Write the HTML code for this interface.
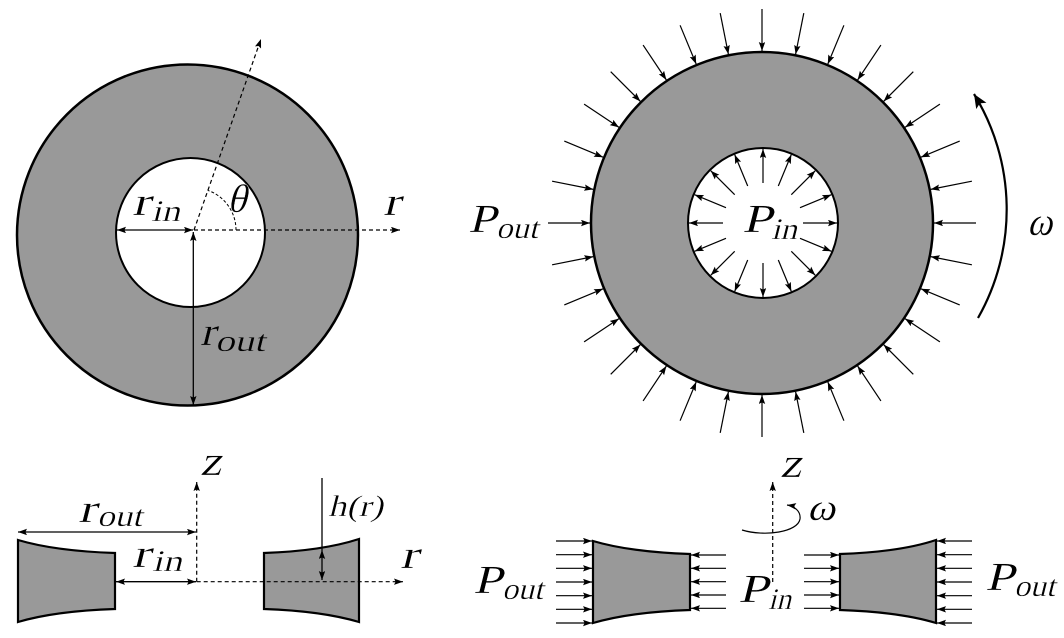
<!DOCTYPE html>
<html>
<head>
<meta charset="utf-8">
<style>
html,body{margin:0;padding:0;background:#fff;}
svg{display:block;}
svg text{font-family:"Liberation Serif","DejaVu Serif",serif;font-style:normal;fill:#000;}
.e text{stroke:#fff;stroke-width:0.35px;}
.g text{stroke:#999;stroke-width:0.35px;}
</style>
</head>
<body>
<svg width="1064" height="638" viewBox="0 0 1064 638" xmlns="http://www.w3.org/2000/svg">
<defs>
<marker id="a" markerUnits="userSpaceOnUse" markerWidth="10" markerHeight="8" refX="9" refY="3.2" orient="auto-start-reverse">
<path d="M0,0 L9,3.2 L0,6.4 L1.6,3.2 z" fill="#000"/>
</marker>
<marker id="b" markerUnits="userSpaceOnUse" markerWidth="16" markerHeight="14" refX="14" refY="6" orient="auto">
<path d="M0,0 L14,6 L0,12 L3,6 z" fill="#000"/>
</marker>
</defs>
<rect width="1064" height="638" fill="#fff"/>

<!-- ===== LEFT DISK ===== -->
<circle cx="187.5" cy="235" r="170.5" fill="#999" stroke="#000" stroke-width="2.5"/>
<circle cx="190.5" cy="232.5" r="74.5" fill="#fff" stroke="#000" stroke-width="2"/>
<line x1="194" y1="230" x2="400" y2="230" stroke="#000" stroke-width="1.2" stroke-dasharray="4,3" marker-end="url(#a)"/>
<line x1="194" y1="230" x2="261" y2="39" stroke="#000" stroke-width="1.2" stroke-dasharray="4,3" marker-end="url(#a)"/>
<path d="M236,230 A42,42 0 0 0 207.7,190.3" fill="none" stroke="#000" stroke-width="1" stroke-dasharray="3,2"/>
<line x1="117" y1="230" x2="193" y2="230" stroke="#000" stroke-width="1.3" marker-start="url(#a)" marker-end="url(#a)"/>
<line x1="193.3" y1="232" x2="193.3" y2="405" stroke="#000" stroke-width="1.3" marker-start="url(#a)" marker-end="url(#a)"/>
<g class="e" font-family="Liberation Serif, DejaVu Serif, serif">
<text transform="translate(132,215) skewX(-14)" font-size="40" textLength="18" lengthAdjust="spacingAndGlyphs">r</text>
<text transform="translate(151,221) skewX(-14)" font-size="30" textLength="29" lengthAdjust="spacingAndGlyphs">in</text>
<text transform="translate(227,212) skewX(-14)" font-size="40" textLength="19" lengthAdjust="spacingAndGlyphs">θ</text>
<text transform="translate(383,215) skewX(-14)" font-size="40" textLength="17" lengthAdjust="spacingAndGlyphs">r</text>
</g>
<g class="g" font-family="Liberation Serif, DejaVu Serif, serif">
<text transform="translate(200,345) skewX(-14)" font-size="40" textLength="15" lengthAdjust="spacingAndGlyphs">r</text>
<text transform="translate(215,351) skewX(-14)" font-size="30" textLength="50" lengthAdjust="spacingAndGlyphs">out</text>
</g>

<!-- ===== RIGHT DISK ===== -->
<circle cx="762" cy="223" r="171" fill="#999" stroke="#000" stroke-width="2.5"/>
<circle cx="763" cy="223" r="75" fill="#fff" stroke="#000" stroke-width="2"/>
<g stroke="#000" stroke-width="1.2" marker-end="url(#a)">
<line x1="976" y1="223" x2="934" y2="223"/>
<line x1="971.9" y1="264.8" x2="930.7" y2="256.6"/>
<line x1="959.7" y1="304.9" x2="920.9" y2="288.8"/>
<line x1="939.9" y1="341.9" x2="905" y2="318.6"/>
<line x1="913.3" y1="374.3" x2="883.6" y2="344.6"/>
<line x1="880.9" y1="400.9" x2="857.6" y2="366"/>
<line x1="843.9" y1="420.7" x2="827.8" y2="381.9"/>
<line x1="803.8" y1="432.9" x2="795.6" y2="391.7"/>
<line x1="762" y1="437" x2="762" y2="395"/>
<line x1="720.2" y1="432.9" x2="728.4" y2="391.7"/>
<line x1="680.1" y1="420.7" x2="696.2" y2="381.9"/>
<line x1="643.1" y1="400.9" x2="666.4" y2="366"/>
<line x1="610.7" y1="374.3" x2="640.4" y2="344.6"/>
<line x1="584.1" y1="341.9" x2="619" y2="318.6"/>
<line x1="564.3" y1="304.9" x2="603.1" y2="288.8"/>
<line x1="552.1" y1="264.8" x2="593.3" y2="256.6"/>
<line x1="548" y1="223" x2="590" y2="223"/>
<line x1="552.1" y1="181.2" x2="593.3" y2="189.4"/>
<line x1="564.3" y1="141.1" x2="603.1" y2="157.2"/>
<line x1="584.1" y1="104.1" x2="619" y2="127.4"/>
<line x1="610.7" y1="71.7" x2="640.4" y2="101.4"/>
<line x1="643.1" y1="45.1" x2="666.4" y2="80"/>
<line x1="680.1" y1="25.3" x2="696.2" y2="64.1"/>
<line x1="720.2" y1="13.1" x2="728.4" y2="54.3"/>
<line x1="762" y1="9" x2="762" y2="51"/>
<line x1="803.8" y1="13.1" x2="795.6" y2="54.3"/>
<line x1="843.9" y1="25.3" x2="827.8" y2="64.1"/>
<line x1="880.9" y1="45.1" x2="857.6" y2="80"/>
<line x1="913.3" y1="71.7" x2="883.6" y2="101.4"/>
<line x1="939.9" y1="104.1" x2="905" y2="127.4"/>
<line x1="959.7" y1="141.1" x2="920.9" y2="157.2"/>
<line x1="971.9" y1="181.2" x2="930.7" y2="189.4"/>
</g>
<g stroke="#000" stroke-width="1.2" marker-end="url(#a)">
<line x1="803" y1="223" x2="837" y2="223"/>
<line x1="800" y1="238.3" x2="831.4" y2="251.3"/>
<line x1="791.3" y1="251.3" x2="815.3" y2="275.3"/>
<line x1="778.3" y1="260" x2="791.3" y2="291.4"/>
<line x1="763" y1="263" x2="763" y2="297"/>
<line x1="747.7" y1="260" x2="734.7" y2="291.4"/>
<line x1="734.7" y1="251.3" x2="710.7" y2="275.3"/>
<line x1="726" y1="238.3" x2="694.6" y2="251.3"/>
<line x1="723" y1="223" x2="689" y2="223"/>
<line x1="726" y1="207.7" x2="694.6" y2="194.7"/>
<line x1="734.7" y1="194.7" x2="710.7" y2="170.7"/>
<line x1="747.7" y1="186" x2="734.7" y2="154.6"/>
<line x1="763" y1="183" x2="763" y2="149"/>
<line x1="778.3" y1="186" x2="791.3" y2="154.6"/>
<line x1="791.3" y1="194.7" x2="815.3" y2="170.7"/>
<line x1="800" y1="207.7" x2="831.4" y2="194.7"/>
</g>
<path d="M978,318 A220,220 0 0 0 974,94" fill="none" stroke="#000" stroke-width="2.2" marker-end="url(#b)"/>
<g class="e" font-family="Liberation Serif, DejaVu Serif, serif">
<text transform="translate(468,232) skewX(-14)" font-size="40" textLength="28" lengthAdjust="spacingAndGlyphs">P</text>
<text transform="translate(496,238) skewX(-14)" font-size="30" textLength="42" lengthAdjust="spacingAndGlyphs">out</text>
<text transform="translate(742,232) skewX(-14)" font-size="40" textLength="30" lengthAdjust="spacingAndGlyphs">P</text>
<text transform="translate(771,239) skewX(-14)" font-size="30" textLength="26" lengthAdjust="spacingAndGlyphs">in</text>
<text transform="translate(1027,235) skewX(-14)" font-size="40" textLength="25" lengthAdjust="spacingAndGlyphs">ω</text>
</g>

<!-- ===== BOTTOM LEFT ===== -->
<path d="M18,540 Q55,551 115,553 L115,609 Q55,611 18,622 Z" fill="#999" stroke="#000" stroke-width="2.2"/>
<path d="M359,539 Q322,551 264,553 L264,609 Q322,611 359,622 Z" fill="#999" stroke="#000" stroke-width="2.2"/>
<line x1="196.7" y1="581.7" x2="196.7" y2="482" stroke="#000" stroke-width="1.2" stroke-dasharray="4,3" marker-end="url(#a)"/>
<line x1="196.7" y1="581.7" x2="403" y2="581.7" stroke="#000" stroke-width="1.2" stroke-dasharray="4,3" marker-end="url(#a)"/>
<line x1="18" y1="532" x2="196" y2="532" stroke="#000" stroke-width="1.3" marker-start="url(#a)" marker-end="url(#a)"/>
<line x1="116" y1="581.7" x2="196" y2="581.7" stroke="#000" stroke-width="1.3" marker-start="url(#a)" marker-end="url(#a)"/>
<line x1="322" y1="478" x2="322" y2="550" stroke="#000" stroke-width="1.3"/>
<line x1="322" y1="550" x2="322" y2="580" stroke="#000" stroke-width="1.3" marker-start="url(#a)" marker-end="url(#a)"/>
<g class="e" font-family="Liberation Serif, DejaVu Serif, serif">
<text transform="translate(200,475) skewX(-14)" font-size="42" textLength="21" lengthAdjust="spacingAndGlyphs">z</text>
<text transform="translate(78,522) skewX(-14)" font-size="40" textLength="18" lengthAdjust="spacingAndGlyphs">r</text>
<text transform="translate(97,526) skewX(-14)" font-size="30" textLength="45" lengthAdjust="spacingAndGlyphs">out</text>
<text transform="translate(132,567) skewX(-14)" font-size="40" textLength="18" lengthAdjust="spacingAndGlyphs">r</text>
<text transform="translate(152,571) skewX(-14)" font-size="30" textLength="30" lengthAdjust="spacingAndGlyphs">in</text>
<text transform="translate(328,516) skewX(-14)" font-size="30" textLength="55" lengthAdjust="spacingAndGlyphs">h(r)</text>
<text transform="translate(400,568) skewX(-14)" font-size="40" textLength="18" lengthAdjust="spacingAndGlyphs">r</text>
</g>

<!-- ===== BOTTOM RIGHT ===== -->
<path d="M593,541 Q630,552 690,554 L690,610 Q630,612 593,623 Z" fill="#999" stroke="#000" stroke-width="2.2"/>
<path d="M936,540 Q900,552 840,554 L840,610 Q900,612 936,623 Z" fill="#999" stroke="#000" stroke-width="2.2"/>
<g stroke="#000" stroke-width="1.2" marker-end="url(#a)">
<line x1="556" y1="541" x2="592" y2="541"/>
<line x1="556" y1="554.7" x2="592" y2="554.7"/>
<line x1="556" y1="568.3" x2="592" y2="568.3"/>
<line x1="556" y1="582" x2="592" y2="582"/>
<line x1="556" y1="595.7" x2="592" y2="595.7"/>
<line x1="556" y1="609.3" x2="592" y2="609.3"/>
<line x1="556" y1="623" x2="592" y2="623"/>
<line x1="726" y1="555" x2="691" y2="555"/>
<line x1="726" y1="568.3" x2="691" y2="568.3"/>
<line x1="726" y1="581.7" x2="691" y2="581.7"/>
<line x1="726" y1="595" x2="691" y2="595"/>
<line x1="726" y1="608.3" x2="691" y2="608.3"/>
<line x1="804" y1="555" x2="839" y2="555"/>
<line x1="804" y1="568.3" x2="839" y2="568.3"/>
<line x1="804" y1="581.7" x2="839" y2="581.7"/>
<line x1="804" y1="595" x2="839" y2="595"/>
<line x1="804" y1="608.3" x2="839" y2="608.3"/>
<line x1="972" y1="541" x2="937" y2="541"/>
<line x1="972" y1="554.7" x2="937" y2="554.7"/>
<line x1="972" y1="568.3" x2="937" y2="568.3"/>
<line x1="972" y1="582" x2="937" y2="582"/>
<line x1="972" y1="595.7" x2="937" y2="595.7"/>
<line x1="972" y1="609.3" x2="937" y2="609.3"/>
<line x1="972" y1="623" x2="937" y2="623"/>
</g>
<line x1="772.7" y1="582" x2="772.7" y2="482" stroke="#000" stroke-width="1.2" stroke-dasharray="4,3" marker-end="url(#a)"/>
<path d="M742,530 C765,537 798,532 800,519 C801,511 794,506 787,505" fill="none" stroke="#000" stroke-width="1.2" marker-end="url(#a)"/>
<g class="e" font-family="Liberation Serif, DejaVu Serif, serif">
<text transform="translate(780,477) skewX(-14)" font-size="42" textLength="21" lengthAdjust="spacingAndGlyphs">z</text>
<text transform="translate(807,520) skewX(-14)" font-size="38" textLength="28" lengthAdjust="spacingAndGlyphs">ω</text>
<text transform="translate(473,593) skewX(-14)" font-size="40" textLength="29" lengthAdjust="spacingAndGlyphs">P</text>
<text transform="translate(502,599) skewX(-14)" font-size="30" textLength="41" lengthAdjust="spacingAndGlyphs">out</text>
<text transform="translate(738,602) skewX(-14)" font-size="40" textLength="30" lengthAdjust="spacingAndGlyphs">P</text>
<text transform="translate(768,609) skewX(-14)" font-size="30" textLength="23" lengthAdjust="spacingAndGlyphs">in</text>
<text transform="translate(985,590) skewX(-14)" font-size="40" textLength="29" lengthAdjust="spacingAndGlyphs">P</text>
<text transform="translate(1014,596) skewX(-14)" font-size="30" textLength="41" lengthAdjust="spacingAndGlyphs">out</text>
</g>
</svg>
</body>
</html>
